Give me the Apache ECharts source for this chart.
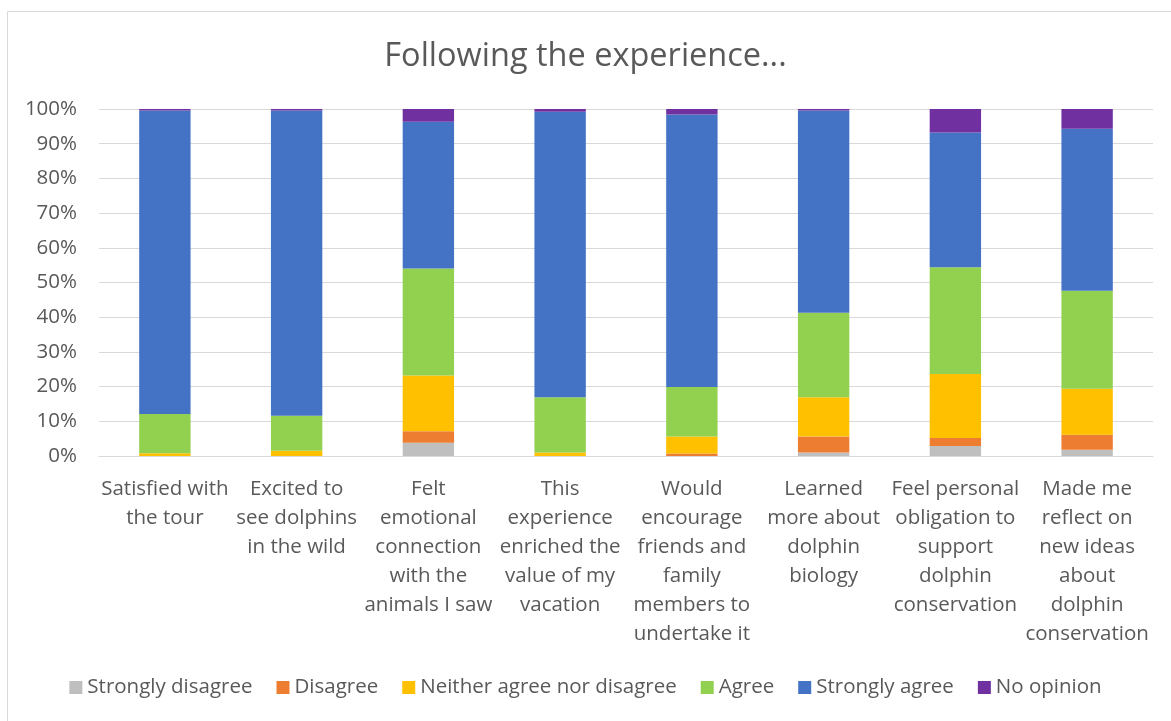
<!DOCTYPE html>
<html><head><meta charset="utf-8">
<script src="https://cdn.jsdelivr.net/npm/echarts@6/dist/echarts.min.js"></script>
<style>html,body{margin:0;padding:0;background:#fff;}#c{width:1171px;height:721px;}</style>
</head><body><div id="c"></div>
<script>
const categories = [
  "Satisfied with\nthe tour",
  "Excited to\nsee dolphins\nin the wild",
  "Felt\nemotional\nconnection\nwith the\nanimals I saw",
  "This\nexperience\nenriched the\nvalue of my\nvacation",
  "Would\nencourage\nfriends and\nfamily\nmembers to\nundertake it",
  "Learned\nmore about\ndolphin\nbiology",
  "Feel personal\nobligation to\nsupport\ndolphin\nconservation",
  "Made me\nreflect on\nnew ideas\nabout\ndolphin\nconservation"
];
const seriesNames = ["Strongly disagree","Disagree","Neither agree nor disagree","Agree","Strongly agree","No opinion"];
const stronglyDisagree = [0, 0, 3.8, 0, 0, 1.0, 2.9, 1.8];
const disagree         = [0, 0, 3.3, 0, 0.7, 4.6, 2.3, 4.3];
const neither          = [0.8, 1.5, 16.1, 1.0, 4.9, 11.3, 18.4, 13.3];
const agree            = [11.3, 10.1, 30.8, 15.9, 14.3, 24.4, 30.8, 28.2];
const stronglyAgree    = [87.5, 88.0, 42.3, 82.3, 78.5, 58.3, 38.8, 46.7];
const noOpinion        = [0.4, 0.4, 3.7, 0.8, 1.6, 0.4, 6.8, 5.7];
const yTicks = ["0%","10%","20%","30%","40%","50%","60%","70%","80%","90%","100%"];

const colors = ["#BFBFBF","#ED7D31","#FFC000","#92D050","#4472C4","#7030A0"];
const values = [stronglyDisagree, disagree, neither, agree, stronglyAgree, noOpinion];
const font = "'Open Sans', 'Noto Sans', sans-serif";
const chart = echarts.init(document.getElementById('c'));
chart.setOption({
  animation:false,
  color: colors,
  title:{text:"Following the experience...", left:'center', top:35,
    textStyle:{fontFamily:font, fontSize:32.5, fontWeight:'normal', color:'#595959'}},
  graphic:[{type:'rect', shape:{x:7.5,y:11.5,width:1200,height:800}, style:{fill:'none',stroke:'#D9D9D9',lineWidth:1}, silent:true}],
  legend:{bottom:18, left:'center', itemWidth:13, itemHeight:13, itemGap:24, icon:'rect',
    textStyle:{fontFamily:font, fontSize:20.5, color:'#595959'}, data:seriesNames},
  grid:{left:99, right:18, top:109, bottom:265, containLabel:false},
  xAxis:{type:'category', data:categories,
    axisLine:{lineStyle:{color:'#D9D9D9', width:1}}, axisTick:{show:false},
    axisLabel:{fontFamily:font, fontSize:20.5, color:'#595959', lineHeight:29, margin:19, interval:0, align:'center'}},
  yAxis:{type:'value', min:0, max:100, interval:10,
    axisLabel:{fontFamily:font, fontSize:20.5, color:'#595959', margin:22,
      formatter:(v)=>yTicks[Math.round(v/10)]},
    splitLine:{lineStyle:{color:'#D9D9D9', width:1}}, axisLine:{show:false}, axisTick:{show:false}},
  series: seriesNames.map((n,i)=>({name:n, type:'bar', stack:'all', barWidth:'39%', data:values[i],
    itemStyle:{color:colors[i]}}))
});
</script></body></html>
